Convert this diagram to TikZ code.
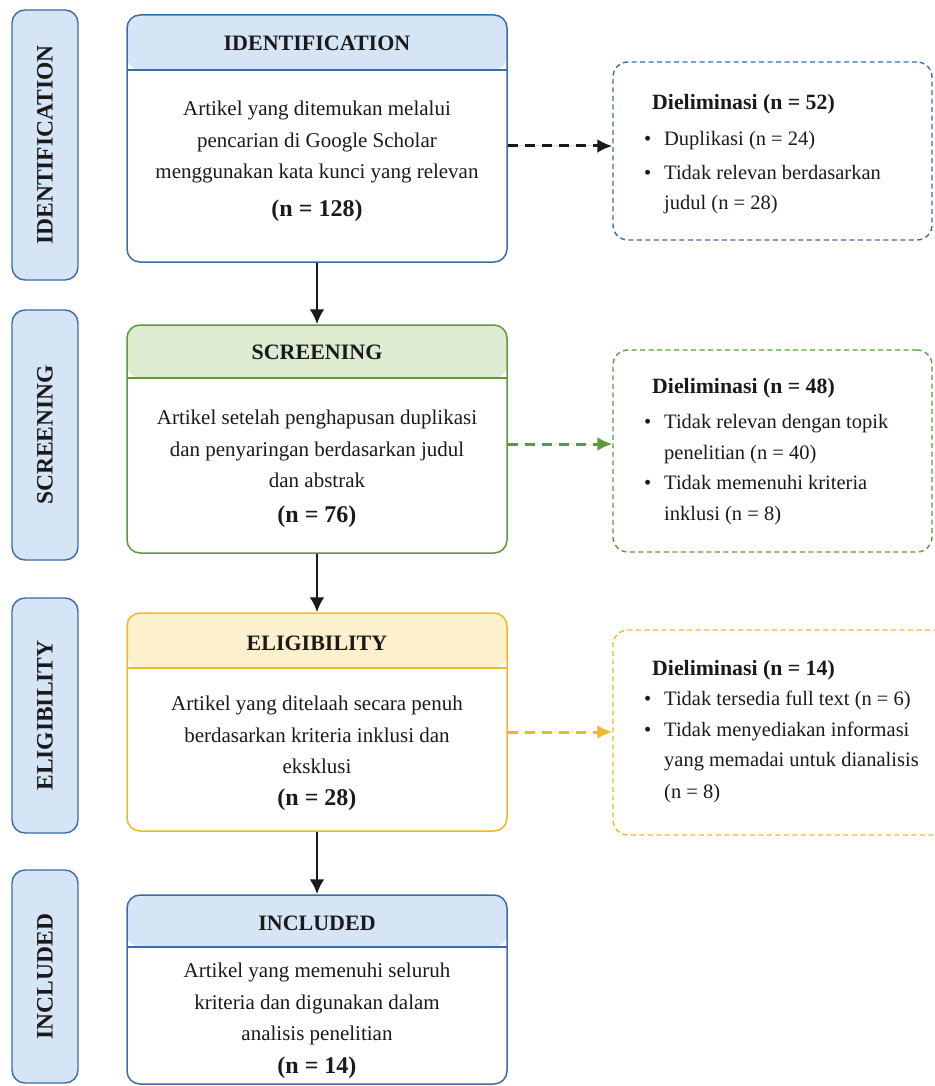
\documentclass[tikz,border=0pt]{standalone}
\usepackage{fontspec}
\setmainfont{Liberation Serif}
\usetikzlibrary{arrows.meta}
\definecolor{txt}{HTML}{1A1A1A}
\definecolor{blueD}{HTML}{3B6CA6}
\definecolor{blueL}{HTML}{D5E5F6}
\definecolor{greenD}{HTML}{5E9A3C}
\definecolor{greenL}{HTML}{DDEBD1}
\definecolor{yelD}{HTML}{EDB92A}
\definecolor{yelL}{HTML}{FDF0CD}
\newcommand\nline[1]{{\fontsize{24}{31.5}\selectfont\bfseries #1}}
\newcommand\bul{\makebox[20pt][l]{\textbullet}}
\newcommand\cont{\hspace*{20pt}}
\newcommand\etitle[1]{\hspace*{8pt}{\fontsize{21.8}{30.5}\selectfont\bfseries #1}}
\begin{document}
\begin{tikzpicture}[x=1pt,y=-1pt,
  sidebox/.style={draw=blueD, fill=blueL, line width=1.4pt, rounded corners=13pt, rotate=90,
    minimum height=66pt, inner sep=0pt, font=\fontsize{23.5}{24}\selectfont\bfseries, text=txt},
  mainbox/.style n args={3}{draw=#1, fill=white, line width=1.5pt, rounded corners=13pt,
    minimum width=380pt, inner sep=0pt,
    path picture={\fill[#2] (path picture bounding box.north west) rectangle ([yshift=-#3]path picture bounding box.north east);
      \draw[#1, line width=1.5pt] ([yshift=-#3]path picture bounding box.north west) -- ([yshift=-#3]path picture bounding box.north east);}},
  headtxt/.style={font=\fontsize{22}{24}\selectfont\bfseries, text=txt, inner sep=0pt},
  bodytxt/.style={font=\fontsize{21}{31.5}\selectfont, align=center, text=txt, inner sep=0pt, anchor=north},
  elimbox/.style={dash pattern=on 5pt off 3.5pt, line width=1.4pt, rounded corners=15pt, fill=white, inner sep=0pt},
  elimtxt/.style={font=\fontsize{20.5}{30.5}\selectfont, align=left, text=txt, inner sep=0pt, anchor=north west},
  arr/.style={draw=txt, line width=2.8pt, -{Latex[length=15pt,width=15pt]}},
  darr/.style={line width=3pt, dash pattern=on 10pt off 7pt, -{Latex[length=15pt,width=14pt]}}
]
\useasboundingbox[fill=white] (0,0) rectangle (934,1086);

% side labels
\node[sidebox, minimum width=270pt] (sid) at (45,145) {IDENTIFICATION};
\node[sidebox, minimum width=250pt] (ssc) at (45,435) {SCREENING};
\node[sidebox, minimum width=235pt] (sel) at (45,715.5) {ELIGIBILITY};
\node[sidebox, minimum width=213pt] (sin) at (45,976.5) {INCLUDED};

% main boxes
\node[mainbox={blueD}{blueL}{55pt}, minimum height=247pt] (idbox) at (317,138.5) {};
\node[mainbox={greenD}{greenL}{53pt}, minimum height=228pt] (scbox) at (317,439) {};
\node[mainbox={yelD}{yelL}{55pt}, minimum height=218pt] (elbox) at (317,722) {};
\node[mainbox={blueD}{blueL}{52pt}, minimum height=189pt] (inbox) at (317,989.5) {};

\node[headtxt] (idh) at (317,43) {IDENTIFICATION};
\node[bodytxt] (idb) at (317,101) {Artikel yang ditemukan melalui\\ pencarian di Google Scholar\\ menggunakan kata kunci yang relevan\\[6pt] \nline{(n = 128)}};
\node[headtxt] (sch) at (317,352) {SCREENING};
\node[bodytxt] (scb) at (317,410) {Artikel setelah penghapusan duplikasi\\ dan penyaringan berdasarkan judul\\ dan abstrak\\[3pt] \nline{(n = 76)}};
\node[headtxt] (elh) at (317,643) {ELIGIBILITY};
\node[bodytxt] (elb) at (317,696) {Artikel yang ditelaah secara penuh\\ berdasarkan kriteria inklusi dan\\ eksklusi\\[0pt] \nline{(n = 28)}};
\node[headtxt] (inh) at (317,923) {INCLUDED};
\node[bodytxt] (inb) at (317,963) {Artikel yang memenuhi seluruh\\ kriteria dan digunakan dalam\\ analisis penelitian\\[1pt] \nline{(n = 14)}};

% eliminated boxes
\node[elimbox, draw=blueD, minimum width=319pt, minimum height=178pt] (e1) at (772.5,151) {};
\node[elimbox, draw=greenD, minimum width=319pt, minimum height=202pt] (e2) at (772.5,451) {};
\node[elimbox, draw=yelD, minimum width=349pt, minimum height=205pt] (e3) at (787.5,732.5) {};

\node[elimtxt] (e1t) at (644,94) {\etitle{Dieliminasi (n = 52)}\\[6pt]
  \bul Duplikasi (n = 24)\\[3pt] \bul Tidak relevan berdasarkan\\ \cont judul (n = 28)};
\node[elimtxt] (e2t) at (644,378) {\etitle{Dieliminasi (n = 48)}\\[5pt]
  \bul Tidak relevan dengan topik\\ \cont penelitian (n = 40)\\ \bul Tidak memenuhi kriteria\\ \cont inklusi (n = 8)};
\node[elimtxt] (e3t) at (644,660) {\etitle{Dieliminasi (n = 14)}\\
  \bul Tidak tersedia full text (n = 6)\\ \bul Tidak menyediakan informasi\\ \cont yang memadai untuk dianalisis\\[1pt] \cont (n = 8)};

% connectors
\draw[arr] (idbox.south) -- (scbox.north);
\draw[arr] (scbox.south) -- (elbox.north);
\draw[arr] (elbox.south) -- (inbox.north);
\draw[darr, draw=txt, fill=txt] (idbox.east |- 0,146) -- (e1.west |- 0,146);
\draw[darr, draw=greenD, fill=greenD] (scbox.east |- 0,444) -- (e2.west |- 0,444);
\draw[darr, draw=yelD, fill=yelD] (elbox.east |- 0,732) -- (e3.west |- 0,732);
\end{tikzpicture}
\end{document}
